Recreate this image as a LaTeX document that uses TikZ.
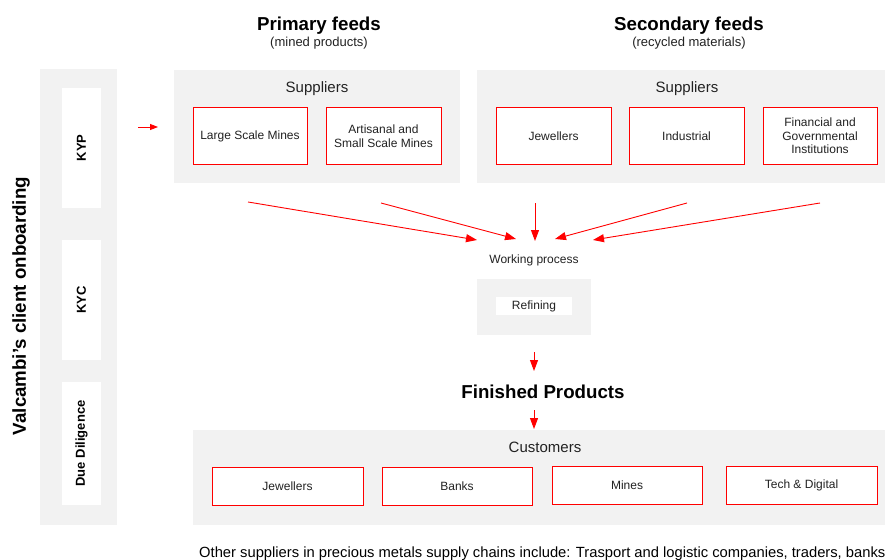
\documentclass[tikz,border=0pt]{standalone}
\usepackage{fontspec}
\setmainfont{Liberation Sans}
\usetikzlibrary{arrows.meta}
\definecolor{panel}{HTML}{F2F2F2}
\definecolor{txt}{HTML}{222222}
\begin{document}
\begin{tikzpicture}[x=1pt,y=-1pt,
  panelbox/.style={fill=panel,draw=none,inner sep=0pt,outer sep=0pt},
  whitebox/.style={fill=white,draw=none,inner sep=0pt,outer sep=0pt,text=txt},
  redbox/.style={draw=red,line width=1pt,fill=white,align=center,inner sep=0pt,
     font=\fontsize{12}{14}\selectfont,text=txt},
  heading/.style={font=\bfseries\fontsize{18.7}{22}\selectfont,text=black},
  subhead/.style={font=\fontsize{13}{15}\selectfont,text=txt},
  label/.style={font=\fontsize{15}{17}\selectfont,text=txt},
  small/.style={font=\fontsize{12}{14}\selectfont,text=txt},
  sidelabel/.style={font=\bfseries\fontsize{13}{15}\selectfont,text=black,rotate=90},
  arr/.style={draw=red,line width=0.9pt,-{Triangle[length=11pt,width=8pt]}},
  sarr/.style={draw=red,line width=0.9pt,-{Triangle[length=8pt,width=6pt]}}
]
\useasboundingbox (0,0) rectangle (885,559);
\fill[white] (0,0) rectangle (885,559);

% left onboarding column
\node[sidelabel,font=\bfseries\fontsize{18.7}{22}\selectfont] (title) at (21,306) {Valcambi's client onboarding};
\node[panelbox,minimum width=77pt,minimum height=456pt] (leftpanel) at (78.5,297) {};
\node[whitebox,minimum width=39pt,minimum height=120pt] (kyp) at (81.5,148) {};
\node[sidelabel] (kyplbl) at (kyp) {KYP};
\node[whitebox,minimum width=39pt,minimum height=120pt] (kyc) at (81.5,300) {};
\node[sidelabel] (kyclbl) at (kyc) {KYC};
\node[whitebox,minimum width=39pt,minimum height=123pt] (dd) at (81.5,443.5) {};
\node[sidelabel] (ddlbl) at (dd) {Due Diligence};

\coordinate (sa) at (138,127);
\coordinate (sb) at (158,127);
\draw[sarr] (sa) -- (sb);

% headings
\node[heading,anchor=base] (prim) at (319,31) {Primary feeds};
\node[subhead,anchor=base] (primsub) at (319,47) {(mined products)};
\node[heading,anchor=base] (sec) at (689,31) {Secondary feeds};
\node[subhead,anchor=base] (secsub) at (689,47) {(recycled materials)};

% primary suppliers
\node[panelbox,minimum width=286pt,minimum height=113pt] (ppanel) at (317,126.5) {};
\node[label] (psup) at (317,89) {Suppliers};
\node[redbox,minimum width=114pt,minimum height=56pt] (lsm) at (250,136) {Large Scale Mines};
\node[redbox,minimum width=115pt,minimum height=56pt] (asm) at (383.5,136) {Artisanal and\\Small Scale Mines};

% secondary suppliers
\node[panelbox,minimum width=408pt,minimum height=113pt] (spanel) at (681,126.5) {};
\node[label] (ssup) at (687,89) {Suppliers};
\node[redbox,minimum width=115pt,minimum height=56pt] (jew) at (553.5,136) {Jewellers};
\node[redbox,minimum width=115pt,minimum height=56pt] (ind) at (686.5,136) {Industrial};
\node[redbox,minimum width=114pt,minimum height=56pt,font=\fontsize{12}{13.5}\selectfont] (fin) at (820,136) {Financial and\\Governmental\\Institutions};

% arrows into working process
\coordinate (s1) at (248,202);
\coordinate (s2) at (381,203);
\coordinate (s3) at (535,203);
\coordinate (s4) at (687,203);
\coordinate (s5) at (820,203);
\coordinate (t1) at (477,240);
\coordinate (t2) at (516,239);
\coordinate (t3) at (535,241);
\coordinate (t4) at (555,239);
\coordinate (t5) at (593,240);
\draw[arr] (s1) -- (t1);
\draw[arr] (s2) -- (t2);
\draw[arr] (s3) -- (t3);
\draw[arr] (s4) -- (t4);
\draw[arr] (s5) -- (t5);

\node[small] (wp) at (534,260) {Working process};
\node[panelbox,minimum width=114pt,minimum height=56pt] (refpanel) at (534,307) {};
\node[whitebox,minimum width=76pt,minimum height=18pt,font=\fontsize{12}{14}\selectfont] (ref) at (534,306) {Refining};

\coordinate (r1) at (534,352);
\coordinate (r2) at (534,371);
\draw[arr] (r1) -- (r2);
\node[heading] (fp) at (543,392) {Finished Products};
\coordinate (f1) at (534,410);
\coordinate (f2) at (534,429);
\draw[arr] (f1) -- (f2);

% customers
\node[panelbox,minimum width=692pt,minimum height=95pt] (cpanel) at (539,477.5) {};
\node[label] (cust) at (545,447) {Customers};
\node[redbox,minimum width=151pt,minimum height=38pt] (cjew) at (287.5,486) {Jewellers};
\node[redbox,minimum width=150pt,minimum height=38pt] (cbank) at (457,486) {Banks};
\node[redbox,minimum width=150pt,minimum height=38pt] (cmine) at (627,485) {Mines};
\node[redbox,minimum width=151pt,minimum height=38pt] (ctech) at (801.5,485) {Tech \& Digital};

\node[anchor=base west,inner sep=0pt,font=\fontsize{14.75}{17}\selectfont,text=black] (note) at (199,557) {Other suppliers in precious metals supply chains include: Trasport and logistic companies, traders, banks};
\end{tikzpicture}
\end{document}
